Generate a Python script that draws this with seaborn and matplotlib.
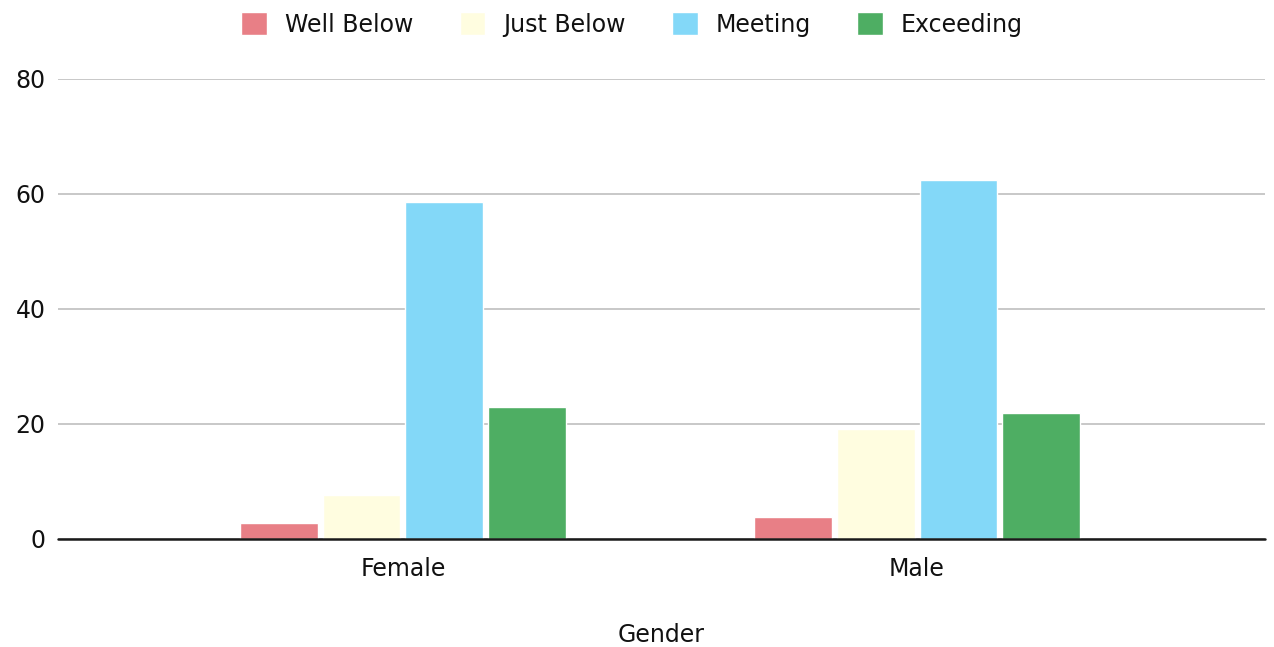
import matplotlib
matplotlib.use("Agg")
import matplotlib.pyplot as plt
import seaborn as sns
import pandas as pd

genders = ["Female", "Male"]
levels = ["Well Below", "Just Below", "Meeting", "Exceeding"]
well_below = [2.7, 3.9]
just_below = [7.7, 19.1]
meeting = [58.6, 62.5]
exceeding = [22.9, 21.9]
y_ticks = [0, 20, 40, 60, 80]

colors = ["#e87f86", "#fffde0", "#83d8f8", "#4eae63"]

rows = []
for level, vals in zip(levels, [well_below, just_below, meeting, exceeding]):
    for g, v in zip(genders, vals):
        rows.append({"Gender": g, "Level": level, "Value": v})
df = pd.DataFrame(rows)

sns.set_theme(style="white")
plt.rcParams["font.family"] = ["DejaVu Sans"]

FS = 17

fig = plt.figure(figsize=(12.74, 6.47), dpi=100)
ax = fig.add_axes([0.0455, 0.167, 0.9475, 0.711])

sns.barplot(data=df, x="Gender", y="Value", hue="Level", order=genders,
            hue_order=levels, palette=colors, width=0.645, gap=0.06,
            saturation=1, ax=ax, zorder=3)

ax.set_ylim(0, 80)
ax.set_xlim(-0.671, 1.677)
ax.set_yticks(y_ticks)
ax.yaxis.grid(True, color="#c8c8c8", linewidth=1.4, zorder=0)
ax.xaxis.grid(False)
for side in ["top", "right", "left", "bottom"]:
    ax.spines[side].set_visible(False)
ax.axhline(0, color="#1a1a1a", linewidth=1.8, zorder=4, clip_on=False)
ax.tick_params(axis="both", length=0, labelsize=FS, colors="#111111")
ax.tick_params(axis="x", pad=13)
ax.tick_params(axis="y", pad=9)
ax.set_ylabel("")
ax.set_xlabel("Gender", fontsize=FS, color="#111111", labelpad=30)

handles, labels = ax.get_legend_handles_labels()
ax.legend_.remove()
fig.legend(handles, labels, loc="upper center", bbox_to_anchor=(0.496, 1.014),
           ncol=4, frameon=False, fontsize=FS, handlelength=1.1,
           handleheight=1.1, handletextpad=0.75, columnspacing=1.95,
           labelcolor="#111111")

fig.savefig("out.png", dpi=100, facecolor="white")
